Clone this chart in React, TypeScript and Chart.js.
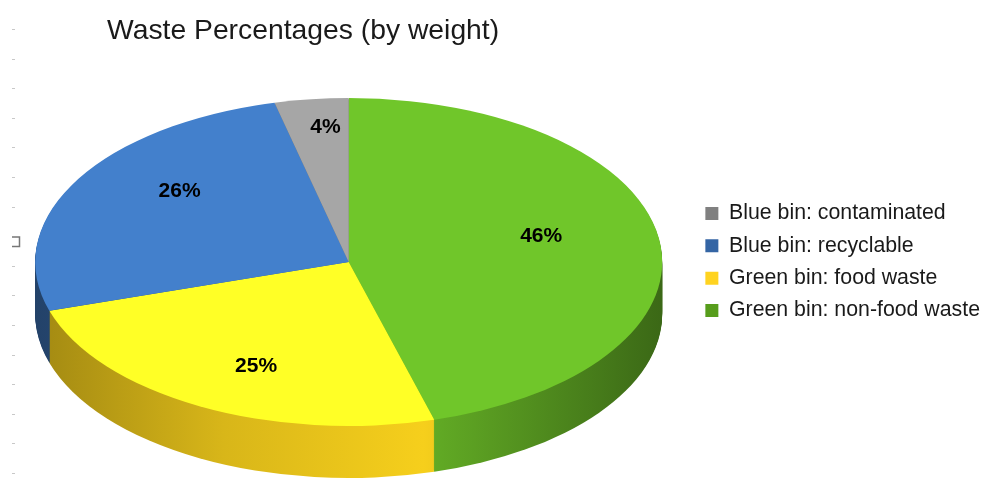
import { useEffect, useRef } from "react";
import { Chart, registerables } from "chart.js";

Chart.register(...registerables);

// ---- data (pie order is clockwise from 12 o'clock; legend shown reversed) ----
const categories = [
  "Green bin: non-food waste",
  "Green bin: food waste",
  "Blue bin: recyclable",
  "Blue bin: contaminated",
];
const values = [45.6, 24.6, 26.0, 3.8];
const legendColors = ["#579d1c", "#ffd320", "#3465a4", "#808080"];
const topColors = ["#70c62a", "#ffff26", "#4380cc", "#a6a6a6"];
const sideColors = ["#63ad25", "#f6cf1c", "#35649f", "#7a7a7a"];
const titleText = "Waste Percentages (by weight)";

// ---- 3D look (style constants) ----
const STRETCH_X = 1.552;
const SQUASH_Y = 0.812;
const DEPTH_FRAC = 0.257;
const LABEL_FX = 0.62;
const LABEL_FY = 0.78;
const LABEL_DY = -8;
const FONT = '"Liberation Sans", Arial, sans-serif';

const shadeStops: [number, number][] = [
  [0, 0.66],
  [0.3, 0.88],
  [0.62, 1.0],
  [0.7, 0.92],
  [1, 0.6],
];

function shade(hex: string, k: number) {
  const n = parseInt(hex.slice(1), 16);
  const r = Math.min(255, Math.round(((n >> 16) & 255) * k));
  const g = Math.min(255, Math.round(((n >> 8) & 255) * k));
  const b = Math.min(255, Math.round((n & 255) * k));
  return `rgb(${r},${g},${b})`;
}

const pie3d = {
  id: "pie3d",
  beforeDatasetsDraw(chart: any) {
    const meta = chart.getDatasetMeta(0);
    const arcs = meta.data as any[];
    if (!arcs.length) return false;
    const ctx: CanvasRenderingContext2D = chart.ctx;
    const { x: cx, y: cy, outerRadius: R } = arcs[0].getProps(
      ["x", "y", "outerRadius"],
      true
    );
    const depth = Math.round(R * DEPTH_FRAC);

    const paint = (offset: number, side: boolean) => {
      ctx.save();
      ctx.translate(cx, cy + offset);
      ctx.scale(STRETCH_X, SQUASH_Y);
      arcs.forEach((arc, i) => {
        const { startAngle, endAngle } = arc.getProps(
          ["startAngle", "endAngle"],
          true
        );
        let fill: any = topColors[i];
        if (side) {
          const g = ctx.createLinearGradient(-R, 0, R, 0);
          shadeStops.forEach(([p, k]) => g.addColorStop(p, shade(sideColors[i], k)));
          fill = g;
        }
        ctx.beginPath();
        ctx.moveTo(0, 0);
        ctx.arc(0, 0, R, startAngle, endAngle);
        ctx.closePath();
        ctx.fillStyle = fill;
        ctx.fill();
      });
      ctx.restore();
    };

    for (let d = depth; d >= 1; d--) paint(d, true);
    paint(0, false);

    // value labels
    const total = values.reduce((a, b) => a + b, 0);
    ctx.save();
    ctx.font = `bold 21px ${FONT}`;
    ctx.fillStyle = "#000000";
    ctx.textAlign = "center";
    ctx.textBaseline = "middle";
    arcs.forEach((arc, i) => {
      const { startAngle, endAngle } = arc.getProps(["startAngle", "endAngle"], true);
      const mid = (startAngle + endAngle) / 2;
      const lx = cx + R * STRETCH_X * LABEL_FX * Math.cos(mid);
      const ly = cy + R * SQUASH_Y * LABEL_FY * Math.sin(mid) + LABEL_DY;
      ctx.fillText(Math.round((values[i] / total) * 100) + "%", lx, ly);
    });
    ctx.restore();
    return false;
  },
  afterDraw(chart: any) {
    const ctx: CanvasRenderingContext2D = chart.ctx;
    ctx.save();
    ctx.font = `28.3px ${FONT}`;
    ctx.fillStyle = "#1a1a1a";
    ctx.textAlign = "left";
    ctx.textBaseline = "alphabetic";
    ctx.fillText(titleText, 107, 39);
    // faint margin marks at the left edge
    ctx.fillStyle = "#c8c8c8";
    for (let k = 0; k < 16; k++) {
      if (k === 7) continue;
      ctx.fillRect(12, Math.round(29 + k * 29.6), 3, 1);
    }
    ctx.strokeStyle = "#777777";
    ctx.lineWidth = 1.5;
    ctx.beginPath();
    ctx.moveTo(12, 237);
    ctx.lineTo(19.5, 237);
    ctx.lineTo(19.5, 246.5);
    ctx.lineTo(12, 246.5);
    ctx.stroke();
    ctx.restore();
  },
};

export default function App() {
  const ref = useRef<HTMLCanvasElement | null>(null);
  useEffect(() => {
    if (!ref.current) return;
    const chart = new Chart(ref.current, {
      type: "pie",
      data: {
        labels: categories,
        datasets: [
          {
            data: values,
            backgroundColor: legendColors,
            borderWidth: 0,
          },
        ],
      },
      options: {
        animation: false,
        responsive: true,
        maintainAspectRatio: false,
        events: [],
        layout: { padding: { left: 3, top: 60, bottom: 16, right: -6 } },
        plugins: {
          legend: {
            position: "right",
            reverse: true,
            labels: {
              boxWidth: 13,
              boxHeight: 13,
              padding: 11,
              color: "#1a1a1a",
              font: { family: FONT, size: 21.3 },
            },
          },
          tooltip: { enabled: false },
          title: { display: false },
        },
      },
      plugins: [pie3d],
    });
    return () => chart.destroy();
  }, []);
  return (
    <div
      style={{
        position: "fixed",
        left: 0,
        top: 0,
        width: 984,
        height: 480,
        background: "#ffffff",
      }}
    >
      <canvas ref={ref} />
    </div>
  );
}
